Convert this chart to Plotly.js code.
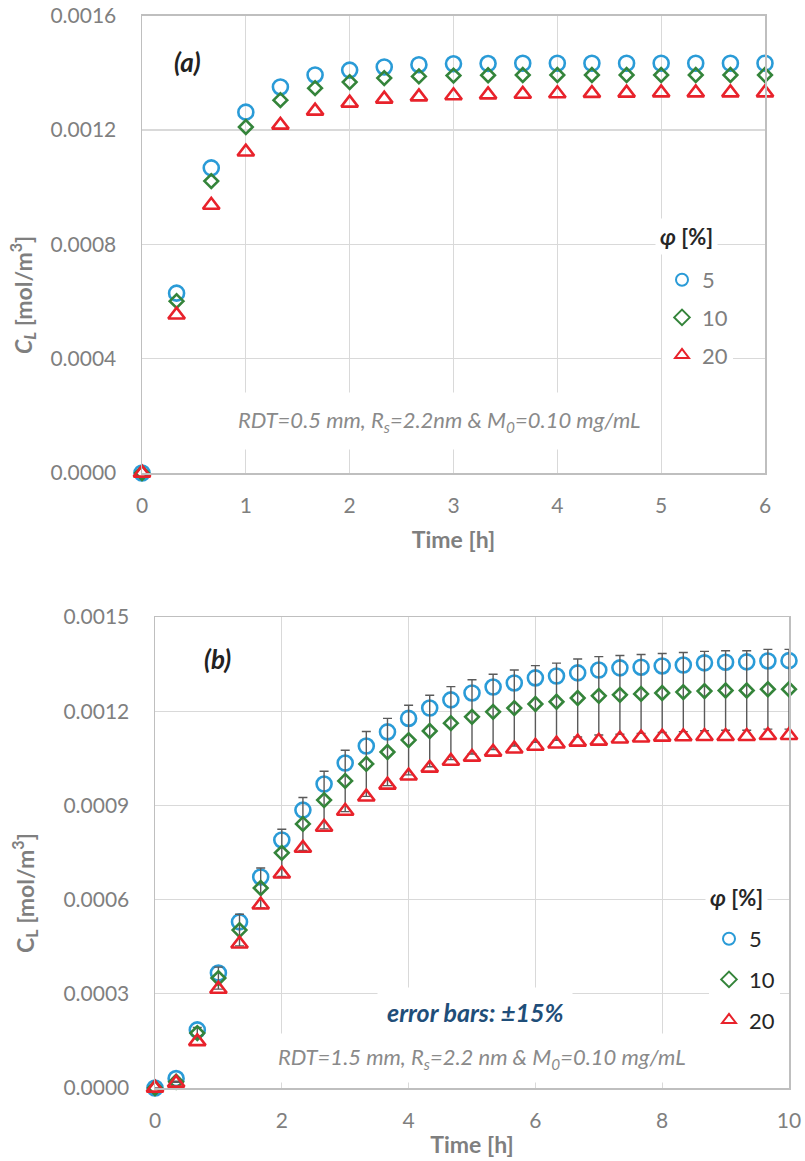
<!DOCTYPE html>
<html>
<head>
<meta charset="utf-8">
<script src="https://cdn.plot.ly/plotly-3.0.1.min.js"></script>
<style>
  html, body { margin: 0; padding: 0; background: #ffffff; }
  #chart { width: 805px; height: 1161px; }
</style>
</head>
<body>
<div id="chart"></div>
<script>
// ---- Panel (a): RDT = 0.5 mm ----
const timeA = [0, 0.333, 0.667, 1, 1.333, 1.667, 2, 2.333, 2.667, 3, 3.333, 3.667, 4, 4.333, 4.667, 5, 5.333, 5.667, 6];
const concA5  = [0, 0.000629, 0.001067, 0.001262, 0.00135, 0.001392, 0.001409, 0.00142, 0.001428, 0.001431, 0.001432, 0.001433, 0.001433, 0.001433, 0.001433, 0.001433, 0.001433, 0.001433, 0.001433];
const concA10 = [0, 0.000601, 0.001021, 0.00121, 0.001304, 0.001346, 0.001367, 0.001381, 0.001387, 0.00139, 0.001391, 0.001392, 0.001392, 0.001392, 0.001392, 0.001392, 0.001392, 0.001392, 0.001392];
const concA20 = [0, 0.000553, 0.000937, 0.001123, 0.001217, 0.001266, 0.001294, 0.001308, 0.001316, 0.00132, 0.001323, 0.001325, 0.001327, 0.001328, 0.001329, 0.00133, 0.00133, 0.00133, 0.00133];

// ---- Panel (b): RDT = 1.5 mm ----
const timeB = [0, 0.333, 0.667, 1, 1.333, 1.667, 2, 2.333, 2.667, 3, 3.333, 3.667, 4, 4.333, 4.667, 5, 5.333, 5.667, 6, 6.333, 6.667, 7, 7.333, 7.667, 8, 8.333, 8.667, 9, 9.333, 9.667, 10];
const concB5  = [0, 0.00003, 0.000185, 0.000366, 0.000529, 0.000672, 0.00079, 0.000885, 0.000968, 0.001035, 0.001089, 0.001134, 0.001177, 0.00121, 0.001236, 0.001258, 0.001277, 0.00129, 0.001306, 0.001312, 0.001322, 0.001331, 0.001338, 0.00134, 0.001344, 0.001347, 0.001354, 0.001356, 0.001357, 0.00136, 0.001361];
const concB10 = [0, 0.00002, 0.000175, 0.00035, 0.000503, 0.000637, 0.000749, 0.000841, 0.000917, 0.000978, 0.001032, 0.00107, 0.001108, 0.001137, 0.001162, 0.001182, 0.001198, 0.00121, 0.001223, 0.00123, 0.001242, 0.001249, 0.001252, 0.001255, 0.001258, 0.001261, 0.001264, 0.001266, 0.001266, 0.00127, 0.00127];
const concB20 = [0, 0.000016, 0.000148, 0.000315, 0.000459, 0.000583, 0.000682, 0.000764, 0.000831, 0.000882, 0.000927, 0.000965, 0.000994, 0.001019, 0.001041, 0.001054, 0.00107, 0.00108, 0.001089, 0.001096, 0.001102, 0.001105, 0.001112, 0.001115, 0.001118, 0.001119, 0.00112, 0.00112, 0.00112, 0.001123, 0.001123];

// volume fraction labels and error band on the middle series
const phiLabels = ['5', '10', '20'];
const errorPercent = 10;

const W = 805, H = 1161;
const px = v => v / W;
const py = v => 1 - v / H;

const FONT = 'Lato, "Open Sans", sans-serif';
const BLUE = '#2A9BD7', GREEN = '#34843A', RED = '#E8222B';
const GRAY = '#7F7F7F';

const markerStyles = [
  { symbol: 'circle-open', size: 15, color: BLUE, line: { width: 2.6, color: BLUE } },
  { symbol: 'diamond-open', size: 10.5, color: GREEN, line: { width: 2.6, color: GREEN } },
  { symbol: 'triangle-up-open', size: 14.5, color: RED, line: { width: 2.6, color: RED } }
];

function series(x, y, i, axes, legend, extra) {
  return Object.assign({
    type: 'scatter', mode: 'markers', x: x, y: y,
    name: phiLabels[i], marker: markerStyles[i],
    xaxis: axes[0], yaxis: axes[1], legend: legend,
    legendgroup: legend + i, cliponaxis: false, hoverinfo: 'x+y'
  }, extra || {});
}

const errBar = { type: 'percent', value: errorPercent, color: '#5A5A5A', thickness: 1.4, width: 4.5 };

const data = [
  series(timeA, concA5, 0, ['x', 'y'], 'legend'),
  series(timeA, concA10, 1, ['x', 'y'], 'legend'),
  series(timeA, concA20, 2, ['x', 'y'], 'legend'),
  series(timeB, concB5, 0, ['x2', 'y2'], 'legend2'),
  series(timeB, concB10, 1, ['x2', 'y2'], 'legend2', { error_y: errBar }),
  series(timeB, concB20, 2, ['x2', 'y2'], 'legend2')
];

const tickFont = { family: FONT, size: 21, color: GRAY };
function xAxis(domain, range, dtick, anchor, standoff) {
  return {
    domain: domain, range: range, dtick: dtick, anchor: anchor,
    showgrid: true, gridcolor: '#D9D9D9', gridwidth: 1.3,
    showline: true, linecolor: '#BFBFBF', linewidth: 1.5, mirror: true,
    zeroline: false, ticks: '', ticklabelstandoff: 13, tickfont: tickFont,
    title: { text: '<b>Time [h]</b>', font: { family: FONT, size: 23, color: GRAY }, standoff: standoff }
  };
}
function yAxis(domain, range, dtick, anchor) {
  return {
    domain: domain, range: range, dtick: dtick, anchor: anchor, tickformat: '.4f',
    showgrid: true, gridcolor: '#D9D9D9', gridwidth: 1.3,
    showline: true, linecolor: '#BFBFBF', linewidth: 1.5, mirror: true,
    zeroline: false, ticks: '', ticklabelstandoff: 20, tickfont: tickFont
  };
}

// each series sits in its own group so the gap spaces the entries apart
function legendBox(x, y, color, gap) {
  return {
    x: x, y: y, xanchor: 'left', yanchor: 'top',
    bgcolor: '#ffffff', borderwidth: 0,
    font: { family: FONT, size: 22, color: color },
    itemsizing: 'constant', tracegroupgap: gap, traceorder: 'grouped', itemwidth: 30
  };
}

const annotations = [
  // panel tags
  { text: '<b><i>(a)</i></b>', x: px(187), y: py(62), font: { family: FONT, size: 26, color: '#222222' } },
  { text: '<b><i>(b)</i></b>', x: px(217), y: py(659), font: { family: FONT, size: 26, color: '#222222' } },
  // y-axis titles
  { text: '<b><i>C<sub>L</sub></i> [mol/m<sup>3</sup>]</b>', x: px(22), y: py(295), textangle: -90,
    font: { family: FONT, size: 23, color: GRAY } },
  { text: '<b>C<sub>L</sub> [mol/m<sup>3</sup>]</b>', x: px(24), y: py(893), textangle: -90,
    font: { family: FONT, size: 23, color: GRAY } },
  // legend headings
  { text: '<b><i>φ</i> [%]</b>', x: px(655), y: py(236), xanchor: 'left', bgcolor: '#ffffff', borderpad: 4,
    font: { family: FONT, size: 22, color: '#262626' } },
  { text: '<b><i>φ</i> [%]</b>', x: px(705), y: py(897), xanchor: 'left', bgcolor: '#ffffff', borderpad: 4,
    font: { family: FONT, size: 22, color: '#262626' } },
  // condition notes
  { text: '<i>RDT=0.5 mm, R<sub>s</sub>=2.2nm &amp; M<sub>0</sub>=0.10 mg/mL</i>', x: px(439), y: py(421),
    bgcolor: '#ffffff', borderpad: 13, font: { family: FONT, size: 22, color: '#8A8A8A' } },
  { text: '<b><i>error bars: ±15%</i></b>', x: px(475), y: py(1012),
    bgcolor: '#ffffff', borderpad: 9, font: { family: FONT, size: 25, color: '#1F4E79' } },
  { text: '<i>RDT=1.5 mm, R<sub>s</sub>=2.2 nm &amp; M<sub>0</sub>=0.10 mg/mL</i>', x: px(482), y: py(1058),
    bgcolor: '#ffffff', borderpad: 9, font: { family: FONT, size: 22, color: '#8A8A8A' } }
].map(a => Object.assign({ xref: 'paper', yref: 'paper', showarrow: false, xanchor: 'center', yanchor: 'middle' }, a));

const layout = {
  width: W, height: H,
  margin: { l: 0, r: 0, t: 0, b: 0 },
  paper_bgcolor: '#ffffff', plot_bgcolor: '#ffffff',
  font: { family: FONT },
  showlegend: true,
  xaxis: xAxis([px(142), px(765)], [0, 6], 1, 'y', 16),
  yaxis: yAxis([py(473), py(15.5)], [0, 0.0016], 0.0004, 'x'),
  xaxis2: xAxis([px(155), px(789)], [0, 10], 2, 'y2', 6),
  yaxis2: yAxis([py(1088), py(617)], [0, 0.0015], 0.0003, 'x2'),
  legend: legendBox(px(662), py(259), GRAY, 6),
  legend2: legendBox(px(709), py(918), '#262626', 9),
  annotations: annotations
};

Plotly.newPlot('chart', data, layout, { staticPlot: true, displayModeBar: false });
</script>
</body>
</html>
